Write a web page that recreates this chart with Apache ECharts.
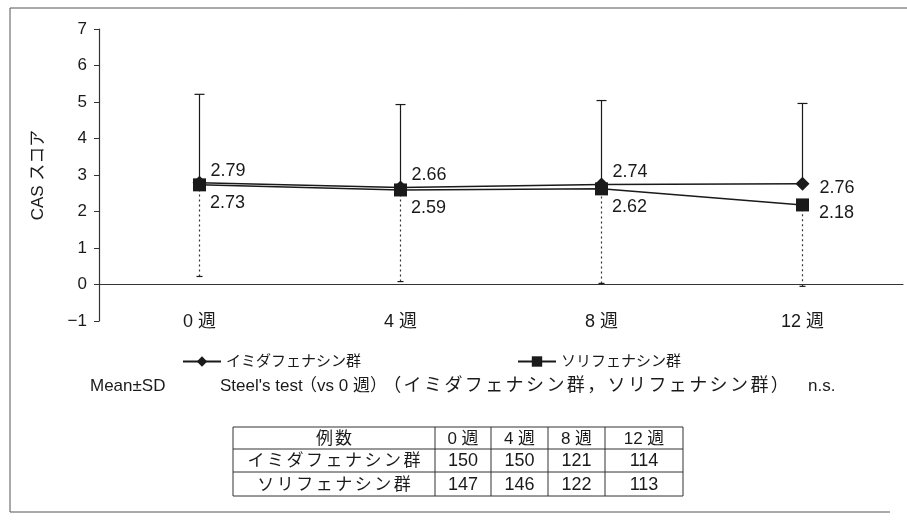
<!DOCTYPE html>
<html>
<head>
<meta charset="utf-8">
<script src="https://cdn.jsdelivr.net/npm/echarts@6/dist/echarts.min.js"></script>
<style>
  html, body { margin: 0; padding: 0; background: #fff; }
  #chart { width: 907px; height: 525px; }
</style>
</head>
<body>
<div id="chart"></div>
<script>
// Visit categories
const weeks = ['0 週', '4 週', '8 週', '12 週'];
// Mean CAS score per group
const imidaMean = [2.79, 2.66, 2.74, 2.76];
const soliMean = [2.73, 2.59, 2.62, 2.18];
// Standard deviations (upper whisker for imidafenacin, lower whisker for solifenacin)
const imidaSD = [2.42, 2.27, 2.30, 2.20];
const soliSD = [2.51, 2.51, 2.59, 2.23];
const groupNames = ['イミダフェナシン群', 'ソリフェナシン群'];
// Y axis range
const yMin = -1, yMax = 7, yStep = 1;
// Patient count table
const tableHead = ['例数', '0 週', '4 週', '8 週', '12 週'];
const imidaN = [150, 150, 121, 114];
const soliN = [147, 146, 122, 113];
const noteSD = 'Mean±SD';
const noteTest = ['Steel\'s test', '（vs 0 週）', '（イミダフェナシン群，ソリフェナシン群）', 'n.s.'];

const FONT = '"Liberation Sans", Arial, "Noto Sans CJK JP", sans-serif';
const INK = '#1a1a1a';

const upperBars = weeks.map((w, i) => [i, imidaMean[i], imidaMean[i] + imidaSD[i]]);
const lowerBars = weeks.map((w, i) => [i, soliMean[i] - soliSD[i], soliMean[i]]);

function whisker(capAtTop, dashed, capW) {
  return function (params, api) {
    const x = api.value(0);
    const lo = api.coord([x, api.value(1)]);
    const hi = api.coord([x, api.value(2)]);
    const capY = capAtTop ? hi[1] : lo[1];
    return {
      type: 'group',
      children: [
        { type: 'line', shape: { x1: lo[0], y1: lo[1], x2: hi[0], y2: hi[1] },
          style: { stroke: dashed ? '#333' : INK, lineWidth: 1.2, lineDash: dashed ? [2, 3] : null } },
        { type: 'line', shape: { x1: lo[0] - capW / 2, y1: capY, x2: lo[0] + capW / 2, y2: capY },
          style: { stroke: INK, lineWidth: 1.2 } }
      ]
    };
  };
}

// Text laid out one character at a time with a fixed advance (spaced typesetting)
function spacedText(str, x, y, advance, size, align) {
  const chars = Array.from(str);
  const total = advance * chars.length;
  let start = x;
  if (align === 'center') start = x - total / 2;
  return chars.map((ch, i) => ({
    type: 'text', x: start + advance * i + advance / 2, y: y,
    style: { text: ch, fill: INK, font: size + 'px ' + FONT, align: 'center', verticalAlign: 'middle' }
  }));
}

// Table geometry
const colX = [233, 435, 491, 548, 605, 683];
const rowY = [427, 449, 472, 496];
let tableGraphics = [];
rowY.forEach(y => tableGraphics.push({ type: 'line', shape: { x1: colX[0], y1: y, x2: colX[5], y2: y }, style: { stroke: '#333', lineWidth: 1 } }));
colX.forEach(x => tableGraphics.push({ type: 'line', shape: { x1: x, y1: rowY[0], x2: x, y2: rowY[3] }, style: { stroke: '#333', lineWidth: 1 } }));
function cellText(txt, c, r, size) {
  return { type: 'text', x: (colX[c] + colX[c + 1]) / 2, y: (rowY[r] + rowY[r + 1]) / 2 + 1,
    style: { text: String(txt), fill: INK, font: size + 'px ' + FONT, align: 'center', verticalAlign: 'middle' } };
}
tableGraphics = tableGraphics.concat(spacedText(tableHead[0], (colX[0] + colX[1]) / 2, (rowY[0] + rowY[1]) / 2 + 1, 19, 17, 'center'));
tableHead.slice(1).forEach((t, c) => tableGraphics.push(cellText(t, c + 1, 0, 17)));
tableGraphics = tableGraphics.concat(spacedText(groupNames[0], (colX[0] + colX[1]) / 2, (rowY[1] + rowY[2]) / 2 + 1, 19.5, 17, 'center'));
tableGraphics = tableGraphics.concat(spacedText(groupNames[1], (colX[0] + colX[1]) / 2, (rowY[2] + rowY[3]) / 2 + 1, 19.5, 17, 'center'));
imidaN.forEach((n, i) => tableGraphics.push(cellText(n, i + 1, 1, 18)));
soliN.forEach((n, i) => tableGraphics.push(cellText(n, i + 1, 2, 18)));

function noteText(txt, x, size) {
  return { type: 'text', x: x, y: 386, style: { text: txt, fill: INK, font: size + 'px ' + FONT, verticalAlign: 'middle' } };
}

const chart = echarts.init(document.getElementById('chart'));
chart.setOption({
  animation: false,
  backgroundColor: '#fff',
  grid: { left: 99, right: 4, top: 29, bottom: 204 },
  legend: {
    left: 177, top: 349,
    itemWidth: 38, itemHeight: 13, itemGap: 156,
    textStyle: { fontSize: 15, color: INK, fontFamily: FONT },
    data: groupNames
  },
  xAxis: {
    type: 'category', data: weeks, boundaryGap: true,
    axisLine: { onZero: true, lineStyle: { color: '#333', width: 1.2 } },
    axisTick: { show: false },
    axisLabel: { margin: -8, fontSize: 18, color: INK, fontFamily: FONT }
  },
  yAxis: {
    type: 'value', min: yMin, max: yMax, interval: yStep,
    name: 'CAS スコア', nameLocation: 'middle', nameGap: 52, nameRotate: 90,
    nameTextStyle: { fontSize: 17, color: INK, fontFamily: FONT },
    axisLine: { show: true, lineStyle: { color: '#333', width: 1.2 } },
    axisTick: { show: true, length: 5, lineStyle: { color: '#333' } },
    axisLabel: { margin: 12, fontSize: 17, color: INK, fontFamily: FONT,
      formatter: v => String(v).replace('-', '−') },
    splitLine: { show: false }
  },
  series: [
    { type: 'custom', name: 'upperSD', renderItem: whisker(true, false, 10), data: upperBars, z: 1, silent: true },
    { type: 'custom', name: 'lowerSD', renderItem: whisker(false, true, 6), data: lowerBars, z: 1, silent: true },
    {
      type: 'line', name: groupNames[0], z: 3,
      symbol: 'diamond', symbolSize: 14,
      lineStyle: { color: INK, width: 1.5 }, itemStyle: { color: INK },
      label: {
        show: true, position: 'right', distance: 4, offset: [0, -12],
        fontSize: 18, color: INK, fontFamily: FONT
      },
      data: imidaMean.map((v, i) => i === 3 ? { value: v, label: { offset: [6, 4] } } : v)
    },
    {
      type: 'line', name: groupNames[1], z: 4,
      symbol: 'rect', symbolSize: 13,
      lineStyle: { color: INK, width: 1.5 }, itemStyle: { color: INK },
      label: {
        show: true, position: 'right', distance: 4, offset: [0, 18],
        fontSize: 18, color: INK, fontFamily: FONT
      },
      data: soliMean.map((v, i) => i === 3 ? { value: v, label: { offset: [6, 8] } } : v)
    }
  ],
  graphic: [
    // outer frame
    { type: 'line', shape: { x1: 10, y1: 8, x2: 907, y2: 8 }, style: { stroke: '#555', lineWidth: 1 } },
    { type: 'line', shape: { x1: 10, y1: 8, x2: 10, y2: 512 }, style: { stroke: '#555', lineWidth: 1 } },
    { type: 'line', shape: { x1: 10, y1: 512, x2: 890, y2: 512 }, style: { stroke: '#555', lineWidth: 1 } },
    noteText(noteSD, 90, 17),
    noteText(noteTest[0], 220, 17),
    noteText(noteTest[1], 300, 17),
    noteText(noteTest[3], 808, 17)
  ].concat(spacedText(noteTest[2], 382, 386, 20.4, 18, 'left')).concat(tableGraphics)
});
</script>
</body>
</html>
